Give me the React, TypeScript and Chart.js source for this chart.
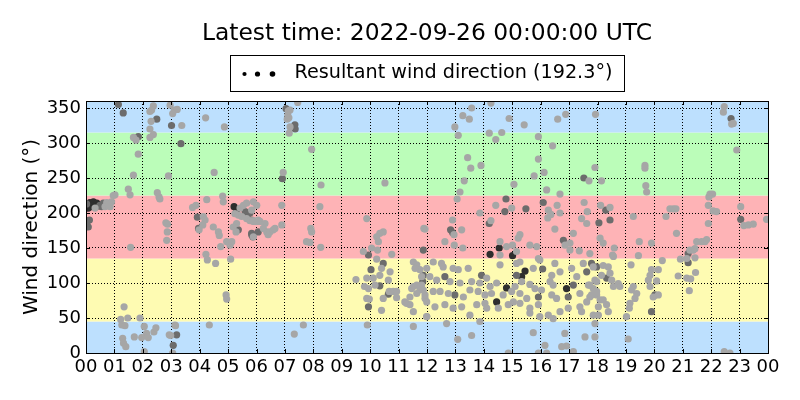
import React, { useEffect, useRef } from "react";
import { Chart, registerables } from "chart.js";

Chart.register(...registerables);

// Hourly axis: 00 .. 23, 00
const hourTicks = [0, 1, 2, 3, 4, 5, 6, 7, 8, 9, 10, 11, 12, 13, 14, 15, 16, 17, 18, 19, 20, 21, 22, 23, 24];
const degreeTicks = [0, 50, 100, 150, 200, 250, 300, 350];

// Compass sectors behind the points (N, E, S, W, N)
const bandEdges = [0, 45, 135, 225, 315, 360];
const bandColors = ["#bde0fe", "#fefbb2", "#feb3b6", "#bbfdb9", "#bde0fe"];

const titleText = "Latest time: 2022-09-26 00:00:00 UTC";
const legendText = "Resultant wind direction (192.3\u00b0)";

// [hour, direction in degrees]
const lightPoints: [number, number][] = [
  [2.37, 353], [2.31, 347], [2.25, 345], [2.29, 331], [2.25, 320],
  [2.96, 354], [3.11, 347], [3.21, 348], [3.05, 342], [3.37, 325], [4.21, 336], [4.87, 323],
  [1.67, 308], [1.76, 304], [2.37, 312], [2.25, 308], [1.84, 284],
  [1.67, 254], [2.9, 253], [4.51, 258], [1.49, 234], [1.55, 226], [2.51, 229], [2.57, 223], [2.6, 220],
  [0.96, 225], [1.02, 226], [4.81, 224], [4.83, 216],
  [1.57, 151], [2.81, 186], [2.87, 184], [2.86, 173], [2.84, 161],
  [3.75, 208], [3.87, 211], [3.98, 176],
  [4.13, 195], [4.19, 190], [4.11, 183], [4.25, 219], [4.48, 180], [4.66, 173], [4.69, 168], [4.74, 152],
  [4.22, 141], [4.27, 133], [4.56, 128], [4.95, 159], [5.07, 154], [5.09, 134],
  [4.93, 83], [4.95, 77], [1.34, 66], [1.22, 48], [1.47, 50], [1.9, 50],
  [1.26, 40], [1.37, 39], [1.29, 21], [1.32, 14], [1.4, 9], [1.7, 23], [2.05, 38], [2.13, 28], [2.19, 22],
  [1.96, 22], [2.39, 30], [2.46, 36], [2.05, 2],
  [2.93, 26], [2.98, 25], [3.13, 40], [3.15, 39], [3.05, 0], [4.34, 40],
  [0.73, 215], [0.85, 209], [0.9, 216], [0.32, 207], [0.67, 209], [0.79, 211],
  [5.42, 207], [5.54, 211], [5.65, 214], [5.83, 204], [5.89, 216], [5.24, 199], [5.36, 197], [5.48, 195],
  [5.65, 192], [5.77, 189], [5.89, 189], [6.01, 188], [6.06, 190], [5.3, 185], [5.18, 180], [5.28, 173], [5.13, 159],
  [7.12, 346], [7.18, 347], [7.1, 340], [7.14, 336], [7.08, 334], [7.18, 323], [7.15, 314],
  [7.45, 358], [7.94, 291], [6.94, 258], [8.27, 240], [10.52, 243],
  [6.01, 211], [5.89, 188], [6.12, 188], [6.3, 185], [6.24, 178], [6.36, 173], [6.41, 169], [6.47, 173],
  [6.59, 176], [6.65, 178], [6.89, 183], [5.89, 166], [6.89, 211],
  [8.23, 209], [7.91, 178], [7.94, 173], [7.76, 159], [7.88, 158], [8.26, 151], [9.88, 192],
  [10.46, 173], [10.34, 171], [10.23, 166], [10.29, 159], [10.05, 150], [10.26, 147], [9.76, 145],
  [10.23, 134], [10.76, 141], [11.93, 177],
  [10.4, 121], [10.34, 111], [10.7, 116], [10.64, 104], [9.88, 107], [10.11, 107], [9.94, 92], [10.17, 97],
  [9.8, 95], [9.88, 78], [9.97, 77], [10.46, 78], [10.67, 88], [10.81, 88], [10.93, 88], [10.93, 79],
  [9.5, 105], [10.4, 61], [9.9, 40], [7.65, 40], [7.33, 27],
  [11.52, 130], [11.64, 126], [11.75, 119], [11.58, 121], [11.81, 97], [11.64, 97], [11.52, 95], [11.46, 92],
  [11.75, 90], [11.93, 83], [11.64, 85], [11.4, 80], [11.28, 71], [11.4, 69], [11.22, 73], [11.52, 59],
  [11.93, 78], [11.99, 52], [11.52, 38],
  [13.57, 350], [13.49, 334], [13.26, 339], [12.98, 323], [13.1, 311], [14.25, 357], [14.19, 314], [14.42, 305],
  [14.63, 315], [14.89, 335], [15.42, 326], [15.92, 309], [16.6, 334], [16.88, 341], [17.93, 341],
  [13.43, 279], [13.54, 264], [13.9, 268], [13.31, 246], [13.16, 230], [13.06, 220], [15.92, 277], [15.77, 253],
  [16.12, 258], [15.06, 241], [16.21, 233], [16.68, 227], [16.42, 296], [17.7, 246], [17.91, 265],
  [14.98, 207], [14.42, 211], [13.86, 200], [14.25, 189], [12.9, 190], [12.95, 169], [13.22, 176],
  [12.63, 159], [12.96, 154], [13.26, 150], [11.89, 178],
  [16.27, 204], [16.25, 193], [16.36, 198], [16.58, 211], [16.68, 200], [17.53, 215], [17.44, 192], [17.62, 185],
  [17.64, 202], [16.5, 177], [17.15, 171], [17.03, 157], [16.86, 154], [17.36, 146], [17.03, 147],
  [15.27, 169], [15.21, 164], [14.57, 159], [14.8, 152], [15.01, 154], [15.15, 145], [15.62, 154], [15.86, 152],
  [15.92, 135], [14.57, 140], [15.27, 130],
  [12.22, 130], [12.51, 128], [11.99, 121], [12.57, 123], [12.92, 121], [13.1, 119], [13.45, 121], [14.57, 126],
  [15.15, 128], [15.74, 121], [15.97, 133], [16.5, 128], [16.68, 116], [16.39, 111], [17.09, 121], [17.5, 128], [17.85, 123],
  [11.81, 109], [12.1, 109], [12.34, 104], [12.81, 102], [13.16, 100], [13.57, 102], [13.86, 100], [14.1, 107],
  [14.22, 95], [14.45, 100], [15.1, 95], [15.33, 102], [15.62, 98], [15.8, 92], [16.03, 90], [16.33, 102],
  [16.44, 97], [17.27, 109], [17.68, 97], [17.85, 92], [17.97, 102], [11.87, 90], [12.22, 88], [12.46, 88],
  [12.75, 85], [13.28, 80], [13.51, 90], [13.8, 88], [14.04, 83], [14.27, 85], [14.68, 83], [14.98, 88],
  [15.27, 85], [15.51, 78], [16.39, 83], [16.56, 78], [17.38, 85], [17.73, 80], [17.97, 83],
  [11.99, 73], [12.28, 66], [12.63, 69], [12.92, 64], [13.22, 66], [13.51, 54], [13.75, 69], [14.04, 71],
  [14.1, 64], [14.51, 64], [14.86, 69], [15.04, 73], [15.27, 71], [15.62, 64], [15.92, 69], [16.27, 54],
  [16.44, 49], [16.68, 59], [16.97, 64], [17.38, 66], [17.44, 59], [17.62, 73], [17.85, 54], [17.91, 42],
  [11.99, 52], [12.69, 42], [13.86, 45], [15.62, 57], [15.97, 52],
  [13.08, 19.5], [13.57, 25], [15.74, 29], [16.15, 11], [16.85, 28], [16.74, 9], [16.91, 10], [17.56, 23],
  [17.91, 23], [14.86, 0], [15.92, 0], [16.21, 0], [17.15, 2],
  [22.46, 352], [22.43, 344], [22.72, 327], [22.78, 328], [22.9, 290], [19.67, 268], [19.67, 264],
  [18.14, 246], [19.7, 239], [19.73, 230], [21.96, 227], [22.05, 227], [21.92, 223],
  [18.11, 211], [18.44, 208], [19.26, 195], [20.55, 206], [20.67, 206], [20.76, 206], [20.41, 195],
  [21.9, 211], [22.07, 203], [22.19, 202], [21.9, 185], [23.04, 209], [23.15, 182], [23.31, 183], [23.48, 184],
  [23.95, 191], [18.09, 164], [18.2, 157], [18.59, 150], [18.53, 140], [18.56, 138], [19.47, 159], [19.9, 157],
  [20.78, 171], [19.44, 139], [21.49, 159], [21.66, 159], [21.78, 159], [21.84, 162], [21.25, 147], [21.37, 147],
  [21.43, 149], [21.14, 135], [21.43, 136], [20.92, 134], [20.28, 132],
  [17.73, 142], [18.2, 125], [18.38, 123], [18.14, 111], [18.44, 114], [18.5, 104], [18.56, 95], [18.73, 99],
  [18.79, 95], [17.91, 104], [17.73, 97], [17.97, 88], [17.79, 83], [18.09, 76], [18.2, 76], [18.03, 66],
  [18.32, 69], [18.38, 59], [18.03, 54],
  [19.18, 126], [19.9, 119], [20.14, 119], [19.85, 111], [19.79, 104], [20.08, 103], [19.85, 95], [20.14, 83],
  [19.96, 80], [19.26, 95], [19.2, 90], [19.38, 85], [19.32, 78], [19.14, 71], [19.12, 64], [19.02, 52],
  [19.08, 20], [20.84, 110], [21.14, 107], [21.28, 106], [21.45, 115], [21.23, 89], [22.46, 2], [22.66, 0],
];

const darkPoints: [number, number][] = [
  [1.14, 355], [1.31, 343], [2.49, 334], [3.01, 325], [1.84, 309], [3.34, 299], [3.92, 194], [3.96, 178],
  [3.19, 26], [3.07, 11],
  [0.49, 211], [0.61, 214], [0.55, 209], [0.12, 190], [0.08, 180], [0.02, 213], [0.03, 185],
  [5.71, 199], [5.36, 176], [5.83, 171], [5.87, 166], [5.6, 202],
  [7.04, 349], [7.35, 326], [7.36, 320], [6.91, 249], [5.77, 200], [5.83, 190], [6.06, 173], [5.83, 169],
  [9.94, 140], [11.87, 147], [10.46, 128], [10.03, 119], [10.34, 96], [9.94, 66], [10.64, 84],
  [11.87, 111], [11.85, 102],
  [17.52, 250], [14.78, 220], [14.74, 202], [15.48, 206], [14.19, 185], [12.83, 176], [12.9, 172],
  [16.09, 215], [16.8, 161],
  [13.92, 111], [15.15, 111], [16.07, 120], [17.62, 116], [12.63, 109], [17.15, 97], [12.98, 83],
  [15.92, 80], [16.97, 80],
  [22.7, 335], [18.29, 204], [18.44, 190], [18.05, 186], [23.04, 191], [21.19, 142], [21.19, 129],
  [17.79, 128], [17.97, 123], [18.32, 107], [20.02, 83], [19.9, 59],
];

const blackPoints: [number, number][] = [
  [0.14, 215], [0.26, 216], [0.38, 214], [0.2, 209], [0.43, 210], [0.08, 207],
  [5.21, 209], [5.3, 204],
  [14.54, 150], [14.22, 141], [15.01, 139],
  [15.45, 117], [15.33, 109], [14.8, 93], [16.91, 92], [14.45, 73],
];

const pad2 = (v: number) => String(v % 24).padStart(2, "0");

const decor = {
  id: "decor",
  beforeDraw(chart: any) {
    const { ctx, chartArea: a, scales } = chart;
    const y = scales.y;
    ctx.save();
    ctx.fillStyle = "#ffffff";
    ctx.fillRect(0, 0, chart.width, chart.height);
    for (let i = 0; i < bandColors.length; i++) {
      const top = y.getPixelForValue(bandEdges[i + 1]);
      const bottom = y.getPixelForValue(bandEdges[i]);
      ctx.fillStyle = bandColors[i];
      ctx.fillRect(a.left, top, a.right - a.left, bottom - top);
    }
    ctx.restore();
  },
  afterDraw(chart: any) {
    const { ctx, chartArea: a, scales } = chart;
    const x = scales.x;
    const y = scales.y;
    ctx.save();
    ctx.strokeStyle = "#000";
    ctx.lineWidth = 1;
    ctx.setLineDash([]);

    // inward ticks on all four sides
    ctx.beginPath();
    for (const t of x.ticks) {
      const px = Math.round(x.getPixelForValue(t.value)) + 0.5;
      ctx.moveTo(px, a.bottom);
      ctx.lineTo(px, a.bottom - 4);
      ctx.moveTo(px, a.top);
      ctx.lineTo(px, a.top + 4);
    }
    for (const t of y.ticks) {
      const py = Math.round(y.getPixelForValue(t.value)) + 0.5;
      ctx.moveTo(a.left, py);
      ctx.lineTo(a.left + 4, py);
      ctx.moveTo(a.right, py);
      ctx.lineTo(a.right - 4, py);
    }
    ctx.stroke();

    ctx.strokeRect(Math.round(a.left) + 0.5, Math.round(a.top) + 0.5, Math.round(a.right - a.left), Math.round(a.bottom - a.top));

    const cx = (a.left + a.right) / 2;
    ctx.fillStyle = "#000";
    ctx.font = "23.4px 'DejaVu Sans'";
    ctx.textAlign = "center";
    ctx.textBaseline = "middle";
    ctx.fillText(titleText, cx, 34);

    // legend box
    ctx.font = "19.2px 'DejaVu Sans'";
    const tw = ctx.measureText(legendText).width;
    const bw = 64 + tw + 12;
    const bx = Math.round(cx - bw / 2) + 0.5;
    ctx.strokeRect(bx, 55.5, Math.round(bw), 36);
    const dots: [number, number][] = [[14, 2.1], [27, 2.6], [42, 2.8]];
    for (const [dx, r] of dots) {
      ctx.beginPath();
      ctx.arc(bx + dx, 74, r, 0, Math.PI * 2);
      ctx.fill();
    }
    ctx.textAlign = "left";
    ctx.fillText(legendText, bx + 64, 73);
    ctx.restore();
  },
};

export default function App() {
  const ref = useRef<HTMLCanvasElement | null>(null);

  useEffect(() => {
    if (!ref.current) return;
    Chart.defaults.font.family = "'DejaVu Sans'";
    Chart.defaults.color = "#000";

    const toXY = (pts: [number, number][]) => pts.map(([h, d]) => ({ x: h, y: d }));
    const style = (color: string) => ({
      backgroundColor: color,
      borderWidth: 0,
      pointRadius: 3.6,
      pointHoverRadius: 3.6,
      clip: 0,
    });

    const chart = new Chart(ref.current, {
      type: "scatter",
      data: {
        datasets: [
          { label: "light", data: toXY(lightPoints), ...style("#a6a6a6") },
          { label: "dark", data: toXY(darkPoints), ...style("#6c6c6c") },
          { label: "black", data: toXY(blackPoints), ...style("#2e2e2e") },
        ],
      },
      plugins: [decor],
      options: {
        responsive: false,
        animation: false,
        layout: { padding: { top: 101, right: 32, left: 0, bottom: 0 } },
        plugins: {
          legend: { display: false },
          tooltip: { enabled: false },
          title: { display: false },
        },
        scales: {
          x: {
            type: "linear",
            min: 0,
            max: 24,
            afterBuildTicks: (s: any) => {
              s.ticks = hourTicks.map((v) => ({ value: v }));
            },
            afterFit: (s: any) => {
              s.height = 47;
            },
            ticks: {
              stepSize: 1,
              autoSkip: false,
              maxRotation: 0,
              padding: 4,
              font: { size: 18 },
              callback: (v: any) => pad2(Number(v)),
            },
            grid: { color: "#000", lineWidth: 1, drawTicks: false },
            border: { display: false, dash: [1, 2] },
          },
          y: {
            type: "linear",
            min: 0,
            max: 360,
            afterBuildTicks: (s: any) => {
              s.ticks = degreeTicks.map((v) => ({ value: v }));
            },
            afterFit: (s: any) => {
              s.width = 86;
            },
            ticks: {
              stepSize: 50,
              padding: 5,
              font: { size: 18 },
            },
            title: {
              display: true,
              text: "Wind direction (\u00b0)",
              font: { size: 20 },
              padding: { top: 20, bottom: 0 },
            },
            grid: { color: "#000", lineWidth: 1, drawTicks: false },
            border: { display: false, dash: [1, 2] },
          },
        },
      },
    });

    return () => chart.destroy();
  }, []);

  return (
    <div style={{ position: "fixed", left: 0, top: 0, width: 800, height: 400 }}>
      <canvas ref={ref} width={800} height={400} />
    </div>
  );
}
